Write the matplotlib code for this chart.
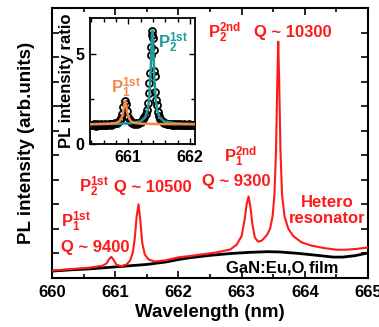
import matplotlib
matplotlib.use("Agg")
import matplotlib.pyplot as plt
from matplotlib.ticker import MultipleLocator

plt.rcParams['font.family'] = ['Liberation Sans', 'DejaVu Sans']
plt.rcParams['font.weight'] = 'bold'
plt.rcParams['mathtext.fontset'] = 'custom'
plt.rcParams['mathtext.rm'] = 'Liberation Sans:bold'
plt.rcParams['mathtext.it'] = 'Liberation Sans:bold'
plt.rcParams['mathtext.bf'] = 'Liberation Sans:bold'

# ---- main spectrum data ----
hetero_wl = [660.00, 660.30, 660.60, 660.80, 660.86, 660.90, 660.94, 660.98, 661.02, 661.10,
             661.18, 661.24, 661.28, 661.31, 661.34, 661.37, 661.40, 661.43, 661.47, 661.53,
             661.63, 661.80, 662.00, 662.20, 662.40, 662.60, 662.82, 662.92, 663.00, 663.05,
             663.08, 663.11, 663.14, 663.17, 663.21, 663.26, 663.32, 663.40, 663.45, 663.49,
             663.52, 663.545, 663.565, 663.58, 663.595, 663.615, 663.64, 663.68, 663.74, 663.82,
             663.95, 664.10, 664.30, 664.50, 664.65, 664.80, 665.00]
hetero_int = [0.30, 0.36, 0.42, 0.50, 0.58, 0.75, 0.86, 0.72, 0.54, 0.48,
              0.55, 0.72, 1.05, 1.60, 2.50, 3.00, 2.30, 1.40, 0.95, 0.75,
              0.67, 0.72, 0.84, 0.90, 0.97, 1.04, 1.16, 1.35, 1.70, 2.40,
              3.00, 3.32, 2.90, 2.20, 1.65, 1.48, 1.52, 1.75, 2.00, 2.50,
              3.40, 5.20, 8.00, 9.63, 8.00, 5.20, 3.40, 2.50, 2.00, 1.70,
              1.45, 1.32, 1.22, 1.15, 1.15, 1.18, 1.24]

film_wl = [660.00, 660.30, 660.60, 660.90, 661.20, 661.50, 661.80, 662.00, 662.20, 662.50,
           662.80, 663.10, 663.40, 663.60, 663.90, 664.20, 664.45, 664.60, 664.80, 665.00]
film_int = [0.28, 0.33, 0.37, 0.43, 0.49, 0.55, 0.65, 0.75, 0.83, 0.92,
            0.99, 1.04, 1.07, 1.06, 1.00, 0.92, 0.85, 0.85, 0.91, 1.02]

# ---- inset data: PL intensity ratio ----
ratio_wl = [660.40, 660.42, 660.44, 660.46, 660.48, 660.50, 660.52, 660.54, 660.56, 660.58,
            660.60, 660.62, 660.64, 660.66, 660.68, 660.70, 660.72, 660.74, 660.76, 660.78,
            660.80, 660.82, 660.84, 660.86, 660.88, 660.90, 660.92, 660.94, 660.96, 660.98,
            661.00, 661.02, 661.04, 661.06, 661.08, 661.10, 661.12, 661.14, 661.16, 661.18,
            661.20, 661.22, 661.24, 661.26, 661.28, 661.30, 661.32, 661.33, 661.34, 661.35,
            661.36, 661.37, 661.38, 661.39, 661.40, 661.41, 661.42, 661.43, 661.44, 661.45,
            661.46, 661.48, 661.50, 661.52, 661.54, 661.56, 661.58, 661.60, 661.62, 661.64,
            661.66, 661.68, 661.70, 661.72, 661.74, 661.76, 661.78, 661.80, 661.82, 661.84,
            661.86, 661.88, 661.90, 661.92, 661.94, 661.96, 661.98, 662.00, 662.02, 662.04, 662.06]
ratio_val = [1.07, 1.03, 1.09, 1.05, 1.02, 1.10, 1.06, 1.04, 1.09, 1.03,
             1.07, 1.11, 1.05, 1.04, 1.09, 1.10, 1.08, 1.12, 1.11, 1.14,
             1.16, 1.18, 1.24, 1.32, 1.45, 1.68, 2.05, 2.38, 2.25, 1.82,
             1.50, 1.32, 1.22, 1.17, 1.14, 1.12, 1.15, 1.13, 1.17, 1.19,
             1.23, 1.28, 1.37, 1.50, 1.64, 1.88, 2.30, 2.85, 3.40, 3.95,
             4.95, 5.40, 6.05, 6.30, 5.90, 5.20, 4.05, 3.80, 2.90, 2.45,
             2.15, 1.80, 1.58, 1.40, 1.30, 1.22, 1.18, 1.15, 1.11, 1.13,
             1.09, 1.12, 1.08, 1.10, 1.07, 1.11, 1.06, 1.09, 1.05, 1.10,
             1.07, 1.04, 1.09, 1.06, 1.08, 1.05, 1.10, 1.06, 1.08, 1.05, 1.07]

fit1_wl = [660.38, 660.70, 660.80, 660.86, 660.90, 660.92, 660.94, 660.95, 660.96, 660.98,
           661.00, 661.04, 661.10, 661.20, 661.50, 662.08]
fit1_val = [1.10, 1.13, 1.17, 1.27, 1.52, 1.84, 2.28, 2.38, 2.28, 1.84,
            1.52, 1.27, 1.17, 1.13, 1.11, 1.10]

fit2_wl = [660.38, 660.80, 661.00, 661.20, 661.28, 661.32, 661.34, 661.36, 661.37, 661.38,
           661.39, 661.40, 661.41, 661.42, 661.44, 661.46, 661.50, 661.58, 661.78, 662.08]
fit2_val = [1.10, 1.12, 1.14, 1.25, 1.51, 2.00, 2.61, 3.87, 4.84, 5.84,
            6.30, 5.84, 4.84, 3.87, 2.61, 2.00, 1.51, 1.25, 1.14, 1.11]

RED = '#ff1a1a'
ORANGE = '#f4884a'
TEAL = '#1f9a98'

fig = plt.figure(figsize=(3.79, 3.27), dpi=100)
ax = fig.add_axes([0.137, 0.150, 0.834, 0.8255])

ax.plot(film_wl, film_int, color='black', lw=2.0, zorder=2)
ax.plot(hetero_wl, hetero_int, color=RED, lw=1.5, zorder=3)

ax.set_xlim(660, 665)
ax.set_ylim(0, 11)
ax.xaxis.set_major_locator(MultipleLocator(1))
ax.xaxis.set_minor_locator(MultipleLocator(0.5))
ax.yaxis.set_major_locator(MultipleLocator(1))
ax.tick_params(which='both', direction='in', top=True, right=True, width=1.2)
ax.tick_params(which='major', length=5, labelsize=12, pad=5)
ax.tick_params(which='minor', length=3)
ax.tick_params(axis='y', labelleft=False)
for lab in ax.get_xticklabels():
    lab.set_fontweight('bold')
for s in ax.spines.values():
    s.set_linewidth(1.5)
ax.set_xlabel('Wavelength (nm)', fontsize=13.5, fontweight='bold', labelpad=3)
ax.set_ylabel('PL intensity (arb.units)', fontsize=13.5, fontweight='bold', labelpad=12)

fs = 12
ax.text(662.47, 10.0, r'$\mathrm{P}_{2}^{2nd}$', color=RED, fontsize=fs, va='center', ha='left')
ax.text(663.2, 10.0, 'Q ~ 10300', color=RED, fontsize=fs, va='center', ha='left', fontweight='bold')
ax.text(662.72, 4.95, r'$\mathrm{P}_{1}^{2nd}$', color=RED, fontsize=fs, va='center', ha='left')
ax.text(662.37, 3.95, 'Q ~ 9300', color=RED, fontsize=fs, va='center', ha='left', fontweight='bold')
ax.text(660.43, 3.7, r'$\mathrm{P}_{2}^{1st}$', color=RED, fontsize=fs, va='center', ha='left')
ax.text(660.98, 3.7, 'Q ~ 10500', color=RED, fontsize=fs, va='center', ha='left', fontweight='bold')
ax.text(660.15, 2.3, r'$\mathrm{P}_{1}^{1st}$', color=RED, fontsize=fs, va='center', ha='left')
ax.text(660.15, 1.25, 'Q ~ 9400', color=RED, fontsize=fs, va='center', ha='left', fontweight='bold')
ax.text(664.35, 2.75, 'Hetero\nresonator', color=RED, fontsize=fs, va='center', ha='center',
        fontweight='bold', linespacing=1.05)
ax.text(663.65, 0.4, 'GaN:Eu,O film', color='black', fontsize=fs, va='center', ha='center',
        fontweight='bold')

# ---- inset ----
ins = fig.add_axes([0.2375, 0.5596, 0.277, 0.3854])
ins.plot(ratio_wl, ratio_val, linestyle='none', marker='o', markersize=5, markerfacecolor='none',
         markeredgecolor='black', markeredgewidth=1.3, zorder=2)
ins.plot(fit2_wl, fit2_val, color=TEAL, lw=1.8, zorder=3)
ins.plot(fit1_wl, fit1_val, color=ORANGE, lw=1.8, zorder=4)
ins.set_xlim(660.38, 662.08)
ins.set_ylim(0, 7)
ins.xaxis.set_major_locator(MultipleLocator(1))
ins.xaxis.set_minor_locator(MultipleLocator(0.2))
ins.yaxis.set_major_locator(MultipleLocator(5))
ins.yaxis.set_minor_locator(MultipleLocator(2.5))
ins.tick_params(which='both', direction='in', top=True, right=True, width=1.0)
ins.tick_params(which='major', length=4, labelsize=11.5, pad=4)
ins.tick_params(which='minor', length=3)
for lab in ins.get_xticklabels() + ins.get_yticklabels():
    lab.set_fontweight('bold')
for s in ins.spines.values():
    s.set_linewidth(1.3)
ins.set_ylabel('PL intensity ratio', fontsize=12, fontweight='bold', labelpad=1)
ins.text(660.72, 3.1, r'$\mathrm{P}_{1}^{1st}$', color=ORANGE, fontsize=12, va='center', ha='left')
ins.text(661.48, 5.6, r'$\mathrm{P}_{2}^{1st}$', color=TEAL, fontsize=12, va='center', ha='left')

fig.savefig('out.png', dpi=100)
